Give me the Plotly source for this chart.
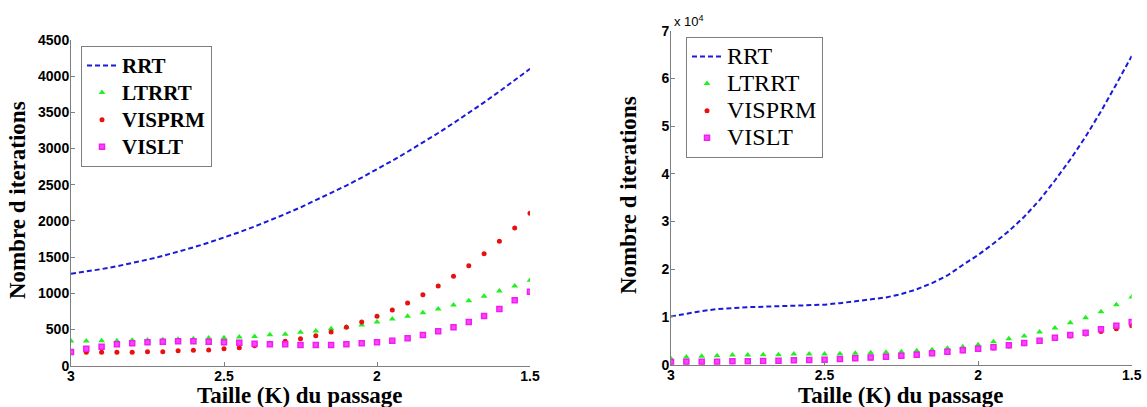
import plotly.graph_objects as go

# ---------------- data ----------------
taille = [3.0, 2.95, 2.9, 2.85, 2.8, 2.75, 2.7, 2.65, 2.6, 2.55, 2.5, 2.45, 2.4, 2.35, 2.3,
          2.25, 2.2, 2.15, 2.1, 2.05, 2.0, 1.95, 1.9, 1.85, 1.8, 1.75, 1.7, 1.65, 1.6, 1.55, 1.5]

# left panel
rrt_left = [1270, 1300, 1335, 1374, 1416, 1465, 1517, 1574, 1635, 1701, 1770, 1844, 1923, 2007,
            2095, 2187, 2284, 2384, 2489, 2599, 2714, 2833, 2956, 3084, 3215, 3352, 3493, 3638,
            3789, 3943, 4102]
ltrrt_left = [341, 341, 345, 345, 350, 354, 359, 364, 373, 382, 387, 396, 405, 428, 434, 461, 479,
              511, 535, 562, 604, 645, 682, 732, 783, 838, 898, 958, 1032, 1101, 1179]
visprm_left = [189, 185, 185, 185, 185, 194, 194, 207, 212, 217, 235, 249, 276, 309, 337, 373, 414,
               465, 530, 604, 682, 769, 866, 981, 1101, 1235, 1381, 1547, 1718, 1902, 2105]
vislt_left = [189, 235, 262, 295, 309, 323, 332, 337, 337, 332, 323, 318, 304, 295, 296, 286, 286,
              286, 296, 309, 323, 346, 378, 424, 475, 530, 604, 686, 783, 903, 1022]

# right panel
rrt_right = [10100, 10750, 11250, 11650, 11900, 12050, 12150, 12250, 12350, 12450, 12580, 12900,
             13250, 13600, 14100, 14800, 15800, 17100, 18700, 20900, 23000, 25400, 28000, 31000,
             34500, 38600, 43000, 47800, 53100, 58800, 64700]
ltrrt_right = [1260, 1610, 1750, 1890, 2030, 2030, 2100, 2100, 2240, 2240, 2240, 2310, 2380, 2480,
               2590, 2730, 2940, 3150, 3430, 3780, 4200, 4830, 5460, 6020, 6850, 7690, 8810, 9860,
               11110, 12580, 14190]
visprm_right = [500, 560, 580, 600, 640, 660, 720, 790, 860, 930, 990, 1120, 1260, 1420, 1600, 1800,
                2010, 2280, 2620, 2900, 3240, 3520, 3920, 4400, 4880, 5480, 6000, 6450, 6950, 7550,
                8180]
vislt_right = [570, 640, 640, 640, 700, 700, 780, 850, 920, 990, 1050, 1190, 1330, 1500, 1680, 1890,
               2100, 2380, 2730, 3010, 3360, 3640, 4060, 4550, 5040, 5670, 6220, 6710, 7410, 8180,
               8950]

series_names = ["RRT", "LTRRT", "VISPRM", "VISLT"]
x_ticks = [3, 2.5, 2, 1.5]
x_ticktext = ["3", "2.5", "2", "1.5"]
left_yticks = [0, 500, 1000, 1500, 2000, 2500, 3000, 3500, 4000, 4500]
right_yticks = [0, 10000, 20000, 30000, 40000, 50000, 60000, 70000]
right_yticktext = ["0", "1", "2", "3", "4", "5", "6", "7"]

# ---------------- styles ----------------
BLUE = "#1a1adc"
GREEN = "#22ee22"
RED = "#e81010"
MAGENTA = "#f01ef0"
AXIS_GRAY = "#7f7f7f"
SERIF = "Liberation Serif"
SANS = "Liberation Sans"

fig = go.Figure()


def add_panel(xa, ya, legend, rrt, lt, vp, vl, label_px):
    def lbl(s):
        return '<span style="font-size:%dpx">%s</span>' % (label_px, s)
    fig.add_trace(go.Scatter(x=taille, y=rrt, mode="lines", name=lbl(series_names[0]),
                             line=dict(color=BLUE, width=2, dash="5px,3px"),
                             xaxis=xa, yaxis=ya, legend=legend))
    fig.add_trace(go.Scatter(x=taille, y=lt, mode="markers", name=lbl(series_names[1]),
                             marker=dict(symbol="triangle-up", size=6, color=GREEN),
                             xaxis=xa, yaxis=ya, legend=legend))
    fig.add_trace(go.Scatter(x=taille, y=vp, mode="markers", name=lbl(series_names[2]),
                             marker=dict(symbol="circle", size=5, color=RED),
                             xaxis=xa, yaxis=ya, legend=legend))
    fig.add_trace(go.Scatter(x=taille, y=vl, mode="markers", name=lbl(series_names[3]),
                             marker=dict(symbol="square", size=5, color="#ff44ff",
                                         line=dict(color=MAGENTA, width=1.5)),
                             xaxis=xa, yaxis=ya, legend=legend))


add_panel("x", "y", "legend", rrt_left, ltrrt_left, visprm_left, vislt_left, 21)
add_panel("x2", "y2", "legend2", rrt_right, ltrrt_right, visprm_right, vislt_right, 24)

W, H = 1147, 407
tickfont = dict(family=SANS, size=14, color="black", weight="bold")
common_x = dict(range=[3, 1.5], tickvals=x_ticks, ticktext=x_ticktext, showline=True,
                linecolor=AXIS_GRAY, linewidth=1, ticks="inside", ticklen=4, tickcolor=AXIS_GRAY,
                showgrid=False, zeroline=False, tickfont=tickfont, automargin=False,
                ticklabelstandoff=-3)
common_y = dict(showline=True, linecolor=AXIS_GRAY, linewidth=1, ticks="inside", ticklen=4,
                tickcolor=AXIS_GRAY, showgrid=False, zeroline=False, tickfont=tickfont,
                automargin=False, ticklabelstandoff=-2)

fig.update_layout(
    template="none",
    width=W, height=H,
    margin=dict(l=0, r=0, t=0, b=0, autoexpand=False),
    paper_bgcolor="white", plot_bgcolor="white",
    showlegend=True,
    xaxis=dict(domain=[71 / W, 530 / W], anchor="y", **common_x),
    yaxis=dict(domain=[1 - 365.7 / H, 1 - 40 / H], anchor="x", range=[0, 4500],
               tickvals=left_yticks, **common_y),
    xaxis2=dict(domain=[671 / W, 1131.7 / W], anchor="y2", **common_x),
    yaxis2=dict(domain=[1 - 364.7 / H, 1 - 30.7 / H], anchor="x2", range=[0, 70000],
                tickvals=right_yticks, ticktext=right_yticktext, **common_y),
    legend=dict(x=81 / W, y=1 - 46 / H, xanchor="left", yanchor="top",
                bgcolor="white", bordercolor=AXIS_GRAY, borderwidth=1,
                font=dict(family=SERIF, size=18.5, color="black", weight="bold"),
                itemwidth=30, tracegroupgap=0),
    legend2=dict(x=686 / W, y=1 - 37 / H, xanchor="left", yanchor="top",
                 bgcolor="white", bordercolor=AXIS_GRAY, borderwidth=1,
                 font=dict(family=SERIF, size=18.5, color="black"),
                 itemwidth=30, tracegroupgap=0),
)

title_font = dict(family=SERIF, size=23, color="black", weight="bold")
fig.add_annotation(text="Nombre d iterations", xref="paper", yref="paper",
                   x=17 / W, y=1 - 200 / H, xanchor="center", yanchor="middle",
                   textangle=-90, showarrow=False, font=title_font)
fig.add_annotation(text="Nombre d iterations", xref="paper", yref="paper",
                   x=628 / W, y=1 - 195 / H, xanchor="center", yanchor="middle",
                   textangle=-90, showarrow=False, font=title_font)
fig.add_annotation(text="Taille (K) du passage", xref="paper", yref="paper",
                   x=300 / W, y=1 - 395 / H, xanchor="center", yanchor="middle",
                   showarrow=False, font=title_font)
fig.add_annotation(text="Taille (K) du passage", xref="paper", yref="paper",
                   x=901 / W, y=1 - 395 / H, xanchor="center", yanchor="middle",
                   showarrow=False, font=title_font)
fig.add_annotation(text="x 10<sup>4</sup>", xref="paper", yref="paper",
                   x=672 / W, y=1 - 21 / H, xanchor="left", yanchor="middle", showarrow=False,
                   font=dict(family=SANS, size=13, color="black"))

fig.write_html("out.html", config={"displayModeBar": False},
               post_script="document.body.style.margin='0';document.body.style.overflow='hidden';")
